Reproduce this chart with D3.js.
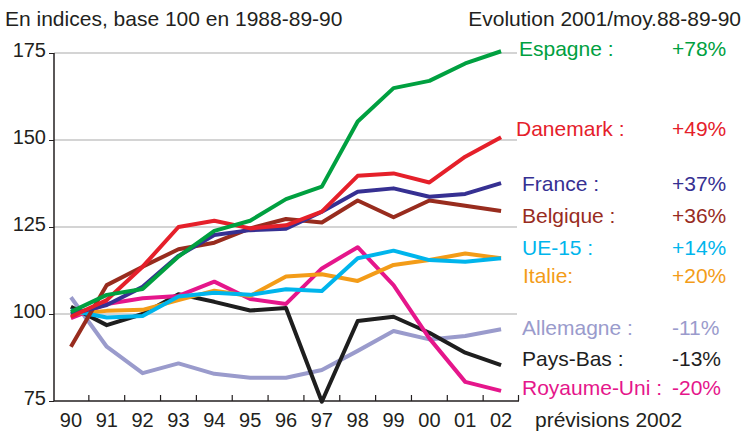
<!DOCTYPE html>
<html>
<head>
<meta charset="utf-8">
<script src="https://cdn.jsdelivr.net/npm/d3@7"></script>
<style>
  body { margin: 0; background: #fff; }
  text { font-family: "Liberation Sans", Arial, sans-serif; }
  .axis path, .axis line { stroke: #231f20; }
</style>
</head>
<body>
<svg id="chart"></svg>
<script>
var w = 749;
var h = 432;

// années (axe des x)
var years = ["90", "91", "92", "93", "94", "95", "96", "97", "98", "99", "00", "01", "02"];
var yTicks = [75, 100, 125, 150, 175];

// séries, indices base 100 en 1988-89-90
var espagne    = [100.6, 105.5, 107.2, 116.5, 123.9, 126.8, 133.0, 136.6, 155.3, 164.9, 167.0, 172.0, 175.5];
var danemark   = [99.2, 104.0, 113.6, 125.0, 126.8, 124.6, 125.5, 129.4, 139.7, 140.4, 137.8, 145.2, 150.8];
var france     = [100.0, 102.6, 107.8, 116.7, 122.7, 124.1, 124.5, 129.4, 135.1, 136.1, 133.7, 134.5, 137.6];
var belgique   = [90.6, 108.3, 113.6, 118.6, 120.5, 124.6, 127.3, 126.3, 132.6, 127.8, 132.6, 131.1, 129.6];
var ue15       = [101.0, 99.0, 99.4, 105.0, 106.1, 105.5, 107.1, 106.6, 116.0, 118.2, 115.5, 115.0, 116.0];
var italie     = [100.0, 100.9, 101.2, 104.0, 106.7, 105.2, 110.8, 111.4, 109.5, 114.1, 115.5, 117.4, 116.0];
var allemagne  = [104.8, 90.6, 83.0, 85.8, 82.8, 81.7, 81.7, 83.9, 89.4, 95.1, 92.7, 93.7, 95.6];
var paysBas    = [102.1, 96.8, 100.0, 105.7, 103.5, 101.0, 101.7, 74.8, 98.0, 99.2, 94.6, 88.9, 85.3];
var royaumeUni = [98.8, 102.9, 104.5, 105.2, 109.3, 104.3, 102.9, 113.1, 119.2, 108.3, 93.0, 80.5, 77.9];

// légende : nom, évolution 2001
var names  = ["Espagne :", "Danemark :", "France :", "Belgique :", "UE-15 :", "Italie:", "Allemagne :", "Pays-Bas :", "Royaume-Uni :"];
var evols  = ["+78%", "+49%", "+37%", "+36%", "+14%", "+20%", "-11%", "-13%", "-20%"];
var colors = ["#00a040", "#e5202a", "#363092", "#982c1e", "#00b5ec", "#f39c18", "#9a9bcc", "#1e1e1e", "#e5168b"];
var series = [espagne, danemark, france, belgique, ue15, italie, allemagne, paysBas, royaumeUni];
var legendY = [56, 136, 191, 223, 255, 283, 335, 366, 395];
var legendX = [519, 516, 522, 522, 522, 523, 522, 522, 522];

// ordre de tracé (dernier = au-dessus)
var drawOrder = [6, 7, 8, 5, 4, 3, 2, 1, 0];

drawChart();

function drawChart() {
    var svg = d3.select("#chart")
        .attr("width", w)
        .attr("height", h);

    var xb = d3.scaleBand().domain(years).range([53, 519]);
    var x = function(d) { return xb(d) + xb.bandwidth() / 2; };
    var y = d3.scaleLinear().domain([75, 175]).range([401, 53]);

    // grille
    svg.append("g")
        .selectAll("line")
        .data(yTicks.slice(1))
        .enter().append("line")
        .attr("x1", 54)
        .attr("x2", 517)
        .attr("y1", function(d) { return y(d); })
        .attr("y2", function(d) { return y(d); })
        .attr("stroke", "#c6c6c6")
        .attr("stroke-width", 1.5);

    // axe y
    var yAxis = svg.append("g")
        .attr("class", "axis")
        .attr("transform", "translate(54,0)")
        .call(d3.axisLeft(y).tickValues(yTicks).tickSize(5).tickPadding(3));
    yAxis.select(".domain").attr("stroke-width", 1.5).attr("d", "M0," + y(175) + "V" + y(75));
    yAxis.selectAll("text")
        .attr("font-size", 20)
        .attr("dy", "0.17em")
        .attr("fill", "#231f20");

    // axe x : étiquettes centrées, graduations entre les années
    var xAxis = svg.append("g")
        .attr("class", "axis")
        .attr("transform", "translate(0," + y(75) + ")")
        .call(d3.axisBottom(xb).tickSize(0).tickPadding(12));
    xAxis.select(".domain").attr("stroke-width", 1.5).attr("d", "M54,0H519");
    xAxis.selectAll("text")
        .attr("font-size", 20)
        .attr("fill", "#231f20");

    svg.append("g")
        .selectAll("line")
        .data(years.slice(1).concat(["end"]))
        .enter().append("line")
        .attr("x1", function(d) { return d == "end" ? 518.5 : xb(d); })
        .attr("x2", function(d) { return d == "end" ? 518.5 : xb(d); })
        .attr("y1", y(75))
        .attr("y2", y(75) - 6)
        .attr("stroke", "#231f20")
        .attr("stroke-width", 1.2);

    svg.append("text")
        .attr("x", 535)
        .attr("y", 427)
        .attr("font-size", 21)
        .attr("fill", "#231f20")
        .text("prévisions 2002");

    // courbes
    var line = d3.line()
        .x(function(d, i) { return x(years[i]); })
        .y(function(d) { return y(d); });

    svg.append("g")
        .selectAll("path")
        .data(drawOrder)
        .enter().append("path")
        .attr("d", function(k) { return line(series[k]); })
        .attr("fill", "none")
        .attr("stroke", function(k) { return colors[k]; })
        .attr("stroke-width", 4)
        .attr("stroke-linejoin", "round");

    // titres
    svg.append("text")
        .attr("x", 5)
        .attr("y", 26)
        .attr("font-size", 21)
        .attr("fill", "#231f20")
        .text("En indices, base 100 en 1988-89-90");

    svg.append("text")
        .attr("x", 741)
        .attr("y", 26)
        .attr("text-anchor", "end")
        .attr("font-size", 21)
        .attr("fill", "#231f20")
        .text("Evolution 2001/moy.88-89-90");

    // légende
    var leg = svg.append("g")
        .selectAll("g")
        .data(names)
        .enter().append("g");

    leg.append("text")
        .attr("x", function(d, i) { return legendX[i]; })
        .attr("y", function(d, i) { return legendY[i]; })
        .attr("font-size", 21)
        .attr("fill", function(d, i) { return colors[i]; })
        .text(function(d) { return d; });

    leg.append("text")
        .attr("x", 672)
        .attr("y", function(d, i) { return legendY[i]; })
        .attr("font-size", 21)
        .attr("fill", function(d, i) { return colors[i]; })
        .text(function(d, i) { return evols[i]; });
}
</script>
</body>
</html>
